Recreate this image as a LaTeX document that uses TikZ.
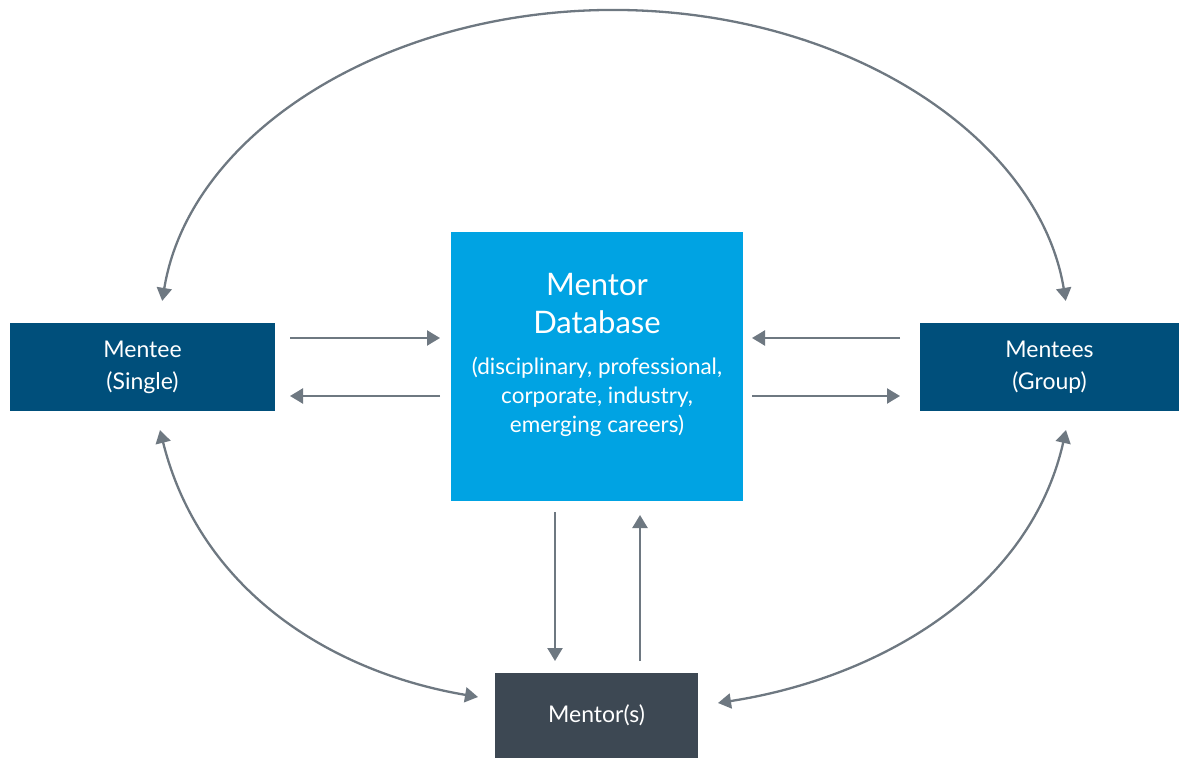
\documentclass[tikz,border=0pt]{standalone}
\usepackage{fontspec}
\setmainfont{Lato}
\usetikzlibrary{arrows.meta}
\definecolor{menteeblue}{HTML}{004F7B}
\definecolor{dbblue}{HTML}{00A3E3}
\definecolor{mentordark}{HTML}{3D4853}
\definecolor{arrowgray}{HTML}{6E7881}
\tikzset{
  box/.style={rectangle, inner sep=0pt, text=white, align=center},
  conn/.style={draw=arrowgray, line width=2.3pt, -{Triangle[length=13pt,width=15pt]}},
  dconn/.style={draw=arrowgray, line width=2.3pt, {Triangle[length=13pt,width=15pt]}-{Triangle[length=13pt,width=15pt]}},
  smalltxt/.style={font=\fontsize{23}{32}\selectfont},
}
\begin{document}
\begin{tikzpicture}[x=1pt,y=-1pt]
\useasboundingbox (0,0) rectangle (1179,759);
\node[box, fill=menteeblue, minimum width=265pt, minimum height=88pt, smalltxt] (single) at (142.5,367) {Mentee\\(Single)};
\node[box, fill=dbblue, minimum width=292pt, minimum height=269pt] (db) at (597,366.5) {};
\node[box, anchor=north, font=\fontsize{31}{38}\selectfont] (dbtext) at (597,273) {Mentor\\Database\\[3pt]\fontsize{22.5}{29}\selectfont (disciplinary, professional,\\[-9pt]\fontsize{22.5}{29}\selectfont corporate, industry,\\[-9pt]\fontsize{22.5}{29}\selectfont emerging careers)};
\node[box, fill=menteeblue, minimum width=259pt, minimum height=88pt, smalltxt] (group) at (1049.5,367) {Mentees\\(Group)};
\node[box, fill=mentordark, minimum width=203pt, minimum height=85pt, smalltxt] (mentor) at (596.5,715.5) {Mentor(s)};

\coordinate (s1) at (290,338); \coordinate (d1) at (440,338);
\coordinate (s2) at (440,396); \coordinate (d2) at (290,396);
\coordinate (s3) at (900,338); \coordinate (d3) at (752,338);
\coordinate (s4) at (752,396); \coordinate (d4) at (900,396);
\coordinate (s5) at (555,512); \coordinate (d5) at (555,661);
\coordinate (s6) at (640,661); \coordinate (d6) at (640,515);
\draw[conn] (s1) -- (d1);
\draw[conn] (s2) -- (d2);
\draw[conn] (s3) -- (d3);
\draw[conn] (s4) -- (d4);
\draw[conn] (s5) -- (d5);
\draw[conn] (s6) -- (d6);

\coordinate (a1) at (162.2,300.9);
\draw[dconn] (a1) arc[start angle=186.8, end angle=353.2, x radius=455, y radius=330];
\coordinate (b1) at (160,430); \coordinate (b2) at (478,697);
\draw[dconn] (b1) .. controls (200,590) and (330,672) .. (b2);
\coordinate (c1) at (1066,430); \coordinate (c2) at (718,703);
\draw[dconn] (c1) .. controls (1030,590) and (880,678) .. (c2);
\end{tikzpicture}
\end{document}
